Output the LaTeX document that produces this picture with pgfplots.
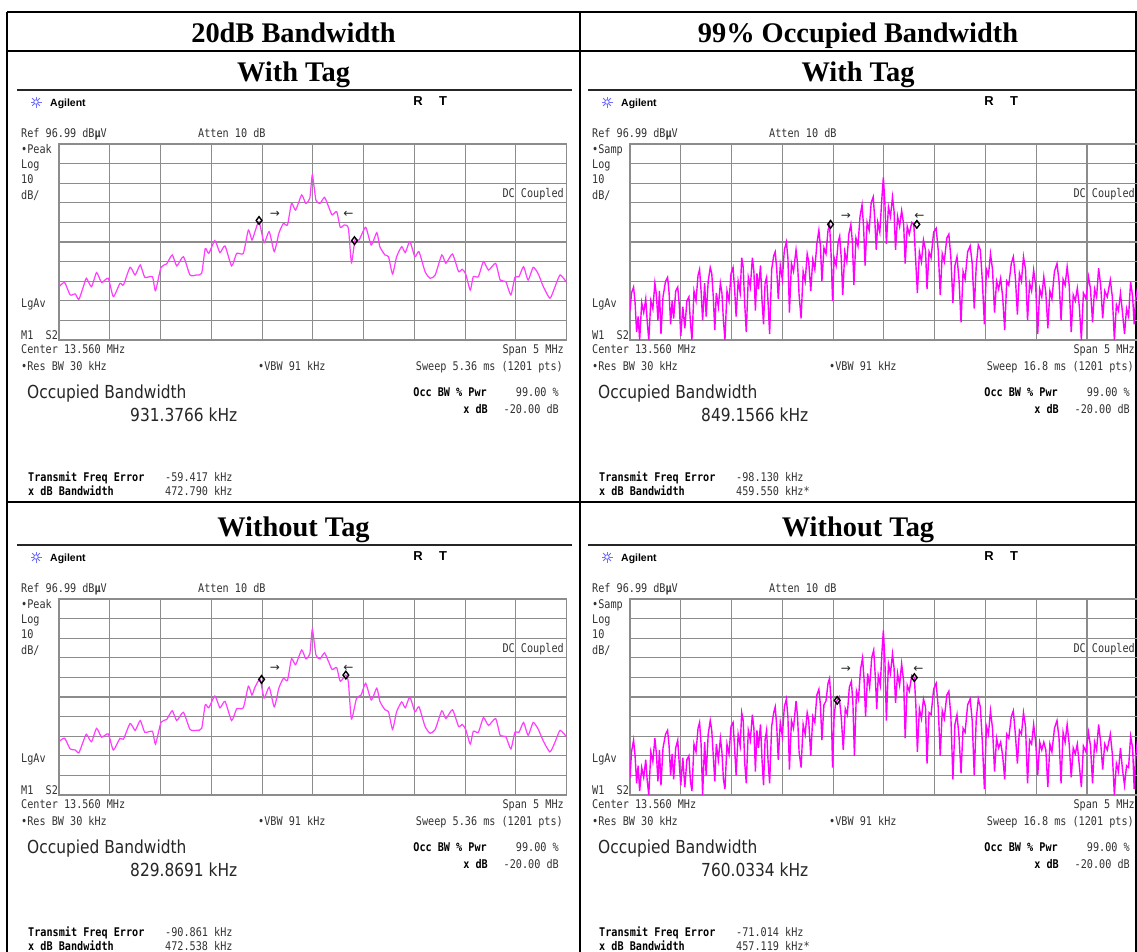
\documentclass[border=0pt]{standalone}
\usepackage{pgfplots}
\usepackage{pgfplotstable}
\pgfplotsset{compat=1.18}
\usepackage{fontspec}
\setmainfont{Liberation Serif}
\newfontfamily\agil[FakeStretch=0.85]{DejaVu Sans Mono}
\newfontfamily\agilbig[FakeStretch=0.86]{DejaVu Sans}
\newfontfamily\dejavu{DejaVu Sans}
\newfontfamily\arial{Liberation Sans}
\newcommand{\fs}{\agil\fontsize{12}{12}\selectfont}
\newcommand{\fb}{\agil\bfseries\fontsize{12}{12}\selectfont}
\newcommand{\fbig}{\agilbig\fontsize{18}{18}\selectfont}
\newcommand{\fhead}{\bfseries\fontsize{28.5}{30}\selectfont}
\definecolor{gridgray}{RGB}{140,140,140}
\definecolor{trA}{RGB}{255,60,255}
\definecolor{trB}{RGB}{255,0,255}
\definecolor{agblue}{RGB}{110,110,255}

% ---- traces (x in divisions 0..10, y in divisions above bottom, 10 dB/div) ----
\pgfplotstableread{
x y
0.00 2.72
0.11 2.93
0.22 2.30
0.32 2.35
0.39 2.07
0.48 2.72
0.54 3.15
0.64 2.72
0.74 3.44
0.84 2.93
0.97 3.15
1.07 2.21
1.20 2.89
1.27 2.81
1.40 3.71
1.50 3.32
1.60 3.83
1.69 3.20
1.84 3.23
1.90 2.52
2.01 3.71
2.12 3.88
2.23 4.34
2.32 3.78
2.45 4.25
2.58 3.32
2.71 3.32
2.81 3.40
2.88 4.66
2.95 4.42
3.07 5.07
3.17 4.46
3.27 4.80
3.40 3.78
3.50 4.42
3.63 4.42
3.73 5.61
3.80 5.10
3.86 5.53
3.94 6.04
4.04 4.97
4.14 5.53
4.24 4.51
4.33 5.44
4.42 5.95
4.50 5.87
4.58 6.97
4.66 6.63
4.78 7.40
4.86 6.97
4.94 7.23
4.99 8.42
5.06 7.14
5.14 6.97
5.23 7.28
5.31 6.80
5.38 6.38
5.47 6.55
5.54 5.75
5.62 5.87
5.70 5.70
5.76 3.95
5.83 5.10
5.91 5.10
6.04 5.75
6.15 4.85
6.26 5.48
6.32 4.76
6.42 4.34
6.49 4.25
6.57 3.37
6.65 4.25
6.75 4.76
6.82 4.46
6.91 5.02
7.01 4.25
7.09 4.51
7.21 3.49
7.31 3.15
7.41 3.32
7.54 4.34
7.62 3.91
7.75 4.39
7.87 3.49
7.94 3.61
8.01 3.37
8.10 2.55
8.16 3.23
8.26 3.23
8.36 4.00
8.46 3.57
8.60 3.91
8.69 3.06
8.80 2.98
8.90 2.30
8.98 3.20
9.06 3.23
9.15 3.74
9.24 3.06
9.34 3.71
9.44 3.37
9.54 2.72
9.67 2.13
9.77 2.72
9.87 3.32
10.00 2.93
}\tA

\pgfplotstableread{
x y
0.00 2.72
0.11 2.90
0.22 2.35
0.32 2.30
0.39 2.15
0.48 2.75
0.54 3.10
0.64 2.72
0.74 3.40
0.84 2.95
0.97 3.12
1.07 2.30
1.20 2.89
1.27 2.85
1.40 3.65
1.50 3.30
1.60 3.80
1.69 3.20
1.84 3.25
1.90 2.60
2.01 3.71
2.12 3.85
2.23 4.30
2.32 3.80
2.45 4.22
2.58 3.35
2.71 3.30
2.81 3.40
2.88 4.60
2.95 4.45
3.07 5.05
3.17 4.45
3.27 4.78
3.40 3.80
3.50 4.40
3.63 4.45
3.73 5.55
3.80 5.10
3.86 5.50
3.96 5.90
4.04 4.95
4.14 5.50
4.24 4.50
4.33 5.45
4.42 5.95
4.50 5.85
4.58 6.95
4.66 6.65
4.78 7.40
4.86 6.95
4.94 7.20
4.99 8.45
5.06 7.15
5.14 6.95
5.23 7.25
5.31 6.80
5.38 6.40
5.47 6.50
5.54 5.80
5.65 6.12
5.70 5.75
5.76 3.88
5.86 4.93
5.95 5.10
6.04 5.70
6.15 4.85
6.26 5.45
6.32 4.78
6.42 4.35
6.49 4.25
6.57 3.35
6.65 4.25
6.75 4.75
6.82 4.45
6.91 5.00
7.01 4.25
7.09 4.50
7.21 3.50
7.31 3.15
7.41 3.35
7.54 4.30
7.62 3.90
7.75 4.35
7.87 3.50
7.94 3.60
8.01 3.35
8.10 2.60
8.16 3.25
8.26 3.20
8.36 3.95
8.46 3.55
8.60 3.90
8.69 3.05
8.80 2.98
8.90 2.35
8.98 3.20
9.06 3.20
9.15 3.70
9.24 3.05
9.34 3.70
9.44 3.35
9.54 2.75
9.67 2.20
9.77 2.70
9.87 3.30
10.00 2.95
}\tC

\pgfplotstableread{
x y
0.00 1.5
0.03 2.4
0.07 2.7
0.10 1.9
0.13 0.4
0.16 1.2
0.19 0.0
0.23 1.9
0.27 1.4
0.31 2.1
0.34 0.9
0.37 0.0
0.41 2.0
0.45 1.6
0.49 2.9
0.52 2.3
0.55 1.0
0.58 2.5
0.61 0.3
0.65 2.2
0.70 3.0
0.74 3.2
0.77 2.4
0.80 0.8
0.83 2.0
0.86 1.1
0.90 2.5
0.94 2.7
0.97 1.8
1.00 0.2
1.04 1.7
1.08 0.6
1.12 2.0
1.16 2.2
1.19 0.9
1.22 0.0
1.26 2.5
1.30 2.0
1.34 3.3
1.37 3.6
1.40 2.5
1.43 1.0
1.47 2.9
1.50 1.2
1.54 3.0
1.58 3.7
1.61 3.4
1.64 2.2
1.67 0.5
1.70 2.4
1.74 1.7
1.78 2.9
1.81 2.4
1.84 1.0
1.87 0.0
1.91 2.5
1.95 2.0
1.99 3.4
2.03 3.7
2.06 2.6
2.09 1.2
2.13 3.0
2.17 2.4
2.20 4.2
2.23 3.7
2.26 1.8
2.29 0.4
2.33 3.2
2.37 2.7
2.41 4.2
2.44 3.5
2.47 1.5
2.50 3.4
2.53 2.6
2.57 3.8
2.60 2.0
2.63 0.8
2.66 2.9
2.69 3.2
2.72 1.9
2.75 0.3
2.79 3.6
2.83 4.3
2.86 4.5
2.89 3.6
2.92 2.1
2.96 3.8
3.00 3.1
3.04 4.6
3.08 5.0
3.11 4.2
3.14 1.4
3.18 3.9
3.22 3.5
3.27 4.6
3.30 3.9
3.33 2.3
3.37 1.1
3.41 3.5
3.45 3.0
3.49 4.4
3.52 4.0
3.56 2.5
3.60 4.1
3.64 3.6
3.68 4.9
3.72 5.6
3.75 4.8
3.78 3.0
3.82 4.7
3.86 4.4
3.90 5.6
3.93 5.9
3.96 4.4
3.99 2.0
4.02 4.2
4.06 3.8
4.10 5.0
4.13 5.3
4.16 4.2
4.19 2.3
4.23 4.5
4.27 4.0
4.31 5.4
4.35 5.9
4.38 5.0
4.41 2.8
4.45 5.2
4.49 4.8
4.53 6.3
4.57 6.9
4.60 5.8
4.63 3.8
4.67 6.0
4.71 5.6
4.75 7.0
4.79 7.3
4.82 6.2
4.85 4.6
4.88 6.0
4.92 5.5
4.96 7.2
4.99 8.3
5.02 7.0
5.05 4.9
5.09 6.8
5.13 6.3
5.17 7.3
5.20 6.6
5.23 4.6
5.27 6.3
5.31 5.8
5.35 6.6
5.39 5.9
5.42 3.9
5.46 5.8
5.50 5.4
5.55 6.0
5.59 5.9
5.62 4.4
5.66 2.4
5.70 4.5
5.74 4.0
5.78 5.1
5.82 4.6
5.85 2.6
5.89 4.5
5.93 4.2
5.98 5.5
6.03 5.7
6.07 4.6
6.11 2.3
6.15 4.4
6.19 4.0
6.24 5.2
6.28 5.4
6.32 4.2
6.36 1.9
6.40 3.8
6.44 4.25
6.48 3.1
6.52 0.9
6.56 3.5
6.60 3.1
6.65 4.5
6.70 4.8
6.74 3.9
6.78 1.6
6.82 3.8
6.86 4.85
6.90 4.6
6.94 3.0
6.98 0.8
7.02 3.6
7.06 3.3
7.10 4.4
7.14 3.6
7.18 1.4
7.22 3.0
7.26 2.6
7.30 3.15
7.34 2.2
7.38 0.5
7.42 3.0
7.46 2.8
7.51 3.9
7.55 4.25
7.59 3.2
7.63 1.3
7.67 3.4
7.71 3.0
7.75 4.25
7.79 3.6
7.83 1.0
7.87 2.9
7.91 2.5
7.95 3.57
7.99 2.8
8.03 0.3
8.07 2.6
8.11 2.2
8.15 3.23
8.19 2.4
8.23 0.6
8.27 2.5
8.31 2.1
8.36 3.5
8.41 3.9
8.45 3.0
8.49 1.0
8.53 3.1
8.57 2.8
8.61 3.74
8.65 2.8
8.69 0.4
8.73 2.3
8.77 2.0
8.81 2.64
8.85 1.7
8.89 0.0
8.93 2.4
8.98 2.1
9.03 3.23
9.07 2.6
9.11 0.9
9.15 2.6
9.19 2.2
9.23 3.66
9.27 2.8
9.31 1.1
9.35 2.5
9.40 2.2
9.46 3.06
9.50 2.2
9.54 0.0
9.58 1.8
9.62 1.5
9.66 2.38
9.70 1.4
9.74 0.3
9.78 1.6
9.82 1.2
9.86 2.98
9.90 2.2
9.93 0.8
9.96 2.1
10.00 2.7
}\tB

\pgfplotstableread{
x y
0.00 0.9
0.03 2.2
0.07 2.8
0.10 2.0
0.13 0.6
0.16 1.5
0.19 0.2
0.23 1.4
0.27 0.9
0.31 1.8
0.34 0.7
0.37 0.0
0.41 2.2
0.45 1.7
0.49 2.9
0.52 2.1
0.55 0.7
0.58 2.3
0.61 0.5
0.65 2.4
0.70 3.1
0.74 3.3
0.77 2.5
0.80 1.0
0.83 2.1
0.86 0.8
0.90 2.4
0.94 2.8
0.97 1.6
1.00 0.5
1.04 1.9
1.08 0.4
1.12 1.8
1.16 2.0
1.19 0.7
1.22 0.2
1.26 2.6
1.30 2.2
1.34 3.4
1.37 3.7
1.40 2.6
1.43 0.0
1.47 2.7
1.50 1.0
1.54 3.1
1.58 3.8
1.61 3.3
1.64 2.0
1.67 0.7
1.70 2.6
1.74 1.8
1.78 2.9
1.81 2.2
1.84 0.8
1.87 0.3
1.91 2.6
1.95 2.1
1.99 3.5
2.03 3.7
2.06 2.4
2.09 1.0
2.13 3.1
2.17 2.5
2.20 4.2
2.23 3.8
2.26 1.6
2.29 0.6
2.33 3.3
2.37 2.8
2.41 4.1
2.44 3.4
2.47 1.2
2.50 3.3
2.53 2.4
2.57 3.6
2.60 1.8
2.63 0.5
2.66 2.8
2.69 3.3
2.72 1.7
2.75 0.6
2.79 3.5
2.83 4.2
2.86 4.5
2.89 3.5
2.92 1.8
2.96 3.7
3.00 3.0
3.04 4.5
3.08 4.9
3.11 4.0
3.14 1.3
3.18 3.8
3.22 3.4
3.27 4.8
3.30 4.0
3.33 2.2
3.37 1.4
3.41 3.6
3.45 3.1
3.49 4.2
3.52 3.8
3.56 2.0
3.60 4.0
3.64 3.7
3.68 5.1
3.72 5.4
3.75 4.6
3.78 2.8
3.82 4.6
3.86 4.8
3.90 5.7
3.93 5.95
3.96 4.8
3.99 1.4
4.02 4.0
4.05 4.7
4.08 4.83
4.12 5.0
4.16 4.0
4.20 2.3
4.24 4.4
4.28 4.1
4.32 5.5
4.36 5.8
4.39 4.7
4.42 2.0
4.46 5.3
4.50 4.9
4.54 6.4
4.58 7.0
4.61 5.9
4.64 4.0
4.68 6.2
4.72 5.5
4.76 7.0
4.80 7.4
4.83 6.1
4.86 4.4
4.89 6.1
4.93 5.6
4.96 7.2
4.99 8.4
5.02 6.9
5.05 3.8
5.09 6.7
5.13 6.2
5.17 7.2
5.20 6.5
5.23 4.7
5.27 6.2
5.31 5.6
5.35 6.7
5.39 5.8
5.42 2.9
5.46 5.6
5.50 5.3
5.55 6.1
5.60 5.99
5.63 4.6
5.66 2.2
5.70 4.4
5.74 3.9
5.78 4.9
5.82 4.5
5.85 1.6
5.89 4.2
5.93 4.1
5.98 5.4
6.03 5.7
6.07 4.5
6.11 2.0
6.15 4.3
6.19 3.9
6.24 5.1
6.28 5.3
6.32 4.0
6.36 0.8
6.40 3.6
6.44 4.1
6.48 3.0
6.52 1.1
6.56 3.4
6.60 3.2
6.65 4.6
6.70 4.9
6.74 3.8
6.78 1.0
6.82 3.9
6.86 4.9
6.90 4.5
6.94 2.7
6.98 0.3
7.02 3.5
7.06 3.1
7.10 4.3
7.14 3.4
7.18 1.2
7.22 2.9
7.26 2.4
7.30 2.7
7.34 2.0
7.38 0.8
7.42 3.1
7.46 2.9
7.51 4.0
7.55 4.3
7.59 3.1
7.63 1.6
7.67 3.3
7.71 3.1
7.75 4.2
7.79 3.5
7.83 0.6
7.87 2.8
7.91 2.6
7.95 3.6
7.99 2.7
8.03 1.0
8.07 2.7
8.11 2.3
8.15 2.7
8.19 2.3
8.23 0.4
8.27 2.6
8.31 2.2
8.36 3.4
8.41 3.8
8.45 2.9
8.49 0.6
8.53 3.2
8.57 2.7
8.61 3.6
8.65 2.6
8.69 0.9
8.73 2.4
8.77 2.1
8.81 2.6
8.85 1.5
8.89 0.4
8.93 2.5
8.98 2.2
9.03 3.2
9.07 2.5
9.11 0.6
9.15 2.7
9.19 2.3
9.23 3.6
9.27 2.7
9.31 1.3
9.35 2.6
9.40 2.3
9.46 3.1
9.50 2.1
9.54 0.0
9.58 1.6
9.62 1.2
9.66 2.4
9.70 1.3
9.74 0.5
9.78 1.5
9.82 1.4
9.86 3.0
9.90 2.4
9.93 0.3
9.96 2.0
10.00 2.9
}\tD

\pgfplotsset{
  scr/.style={
    width=507.7bp, height=196bp, scale only axis, anchor=south west,
    xmin=0, xmax=10, ymin=0, ymax=10,
    xtick={0,1,...,10}, ytick={0,1,...,10},
    xticklabels={{},{},{},{},{},{},{},{},{},{},{}},
    yticklabels={{},{},{},{},{},{},{},{},{},{},{}},
    major tick length=0pt,
    grid=major,
    major grid style={color=gridgray, line width=1.1bp},
    axis line style={color=gridgray, line width=1.4bp},
    clip=true,
  },
  tr1/.style={color=trA, line width=1.2bp, smooth, tension=0.35},
  tr2/.style={color=trB, line width=1.4bp},
  mk/.style={only marks, mark=diamond, mark size=3.8bp,
    mark options={draw=black, fill=white, line width=1.4bp}},
}

\tikzset{
  t/.style={anchor=base west, inner sep=0pt, font=\fs, text=black!80},
  te/.style={anchor=base east, inner sep=0pt, font=\fs, text=black!80},
  tb/.style={anchor=base west, inner sep=0pt, font=\fb, text=black},
  tbe/.style={anchor=base east, inner sep=0pt, font=\fb, text=black},
  tg/.style={anchor=base west, inner sep=0pt, font=\fbig, text=black!85},
  arr/.style={inner sep=0pt, font=\dejavu\fontsize{12}{12}\selectfont, text=black!85},
  hd/.style={anchor=base, inner sep=0pt, font=\fhead},
}

% #1 dx, #2 dy, #3 detector, #4 marker label, #5 sweep, #6 occ bw, #7 freq err, #8 xdB bw
\newcommand{\scrtext}[8]{%
\begin{scope}[shift={(#1,#2)}]
  \foreach \a in {0,45,90,135}{\draw[agblue, line width=1bp] (36,102) ++(\a:5.5) -- ++(\a+180:11);}
  \fill[white] (36,102) circle (2.2);
  \draw[agblue, line width=0.8bp] (36,102) circle (2.2);
  \node[anchor=base west, inner sep=0pt, font=\arial\bfseries\fontsize{10.5}{10.5}\selectfont] at (50,106) {Agilent};
  \node[anchor=base, inner sep=0pt, font=\arial\bfseries\fontsize{13}{13}\selectfont] at (418,105) {R};
  \node[anchor=base, inner sep=0pt, font=\arial\bfseries\fontsize{13}{13}\selectfont] at (443,105) {T};
  \node[t] at (21,137.5) {Ref 96.99 dB\textbf{µ}V};
  \node[t] at (198,137.5) {Atten 10 dB};
  \node[t] at (21,153.5) {•#3};
  \node[t] at (21,168.5) {Log};
  \node[t] at (21,183.5) {10};
  \node[t] at (21,199.5) {dB/};
  \node[t] at (21,307.5) {LgAv};
  \node[t] at (21,339.5) {#4\ \ S2};
  \node[te] at (564,197.5) {DC Coupled};
  \node[t] at (21,353.5) {Center 13.560 MHz};
  \node[te] at (564,353.5) {Span 5 MHz};
  \node[t] at (21,370.5) {•Res BW 30 kHz};
  \node[t] at (258,370.5) {•VBW 91 kHz};
  \node[te] at (563,370.5) {Sweep #5 (1201 pts)};
  \node[tg] at (27,398.5) {Occupied Bandwidth};
  \node[tg] at (130,421.5) {#6 kHz};
  \node[tbe] at (487,396.5) {Occ BW \% Pwr};
  \node[te] at (559,396.5) {99.00 \%};
  \node[tbe] at (488,413.5) {x dB};
  \node[te] at (559,413.5) {-20.00 dB};
  \node[tb] at (28,481) {Transmit Freq Error};
  \node[t] at (165,481) {#7 kHz};
  \node[tb] at (28,495) {x dB Bandwidth};
  \node[t] at (165,495) {#8};
\end{scope}}

\begin{document}
\begin{tikzpicture}[x=1bp, y=-1bp]
\useasboundingbox (0,0) rectangle (1137,952);
\fill[white] (0,0) rectangle (1137,952);

% table rules
\draw[black, line width=1.6bp] (7,12) -- (1137,12);
\draw[black, line width=1.6bp] (7,51) -- (1137,51);
\draw[black, line width=1.6bp] (7,12) -- (7,952);
\draw[black, line width=1.6bp] (580,12) -- (580,952);
\draw[black, line width=1.6bp] (1136.2,12) -- (1136.2,952);
\draw[black, line width=1.6bp] (7,502) -- (1137,502);
\draw[black!85, line width=2bp] (17,90) -- (572,90);
\draw[black!85, line width=2bp] (588,90) -- (1137,90);
\draw[black!85, line width=2bp] (17,545) -- (572,545);
\draw[black!85, line width=2bp] (588,545) -- (1137,545);

% headers
\node[hd] at (293.5,42) {20dB Bandwidth};
\node[hd] at (858,42) {99\% Occupied Bandwidth};
\node[hd] at (293.5,81) {With Tag};
\node[hd] at (858,81) {With Tag};
\node[hd] at (293.5,536) {Without Tag};
\node[hd] at (858,536) {Without Tag};

% screen texts
\scrtext{0}{0}{Peak}{M1}{5.36 ms}{931.3766}{-59.417}{472.790 kHz}
\scrtext{571}{0}{Samp}{W1}{16.8 ms}{849.1566}{-98.130}{459.550 kHz*}
\scrtext{0}{455}{Peak}{M1}{5.36 ms}{829.8691}{-90.861}{472.538 kHz}
\scrtext{571}{455}{Samp}{W1}{16.8 ms}{760.0334}{-71.014}{457.119 kHz*}

% panel 1
\begin{axis}[scr, at={(59bp,-340bp)}]
\addplot[tr1] table {\tA};
\addplot[mk] coordinates {(3.94,6.1) (5.82,5.07)};
\node[arr] at (axis cs:4.25,6.43) {→};
\node[arr] at (axis cs:5.70,6.43) {←};
\end{axis}
% panel 2
\begin{axis}[scr, at={(630bp,-340bp)}]
\addplot[tr2] table {\tB};
\addplot[mk] coordinates {(3.95,5.9) (5.65,5.9)};
\node[arr] at (axis cs:4.25,6.33) {→};
\node[arr] at (axis cs:5.70,6.33) {←};
\end{axis}
% panel 3
\begin{axis}[scr, at={(59bp,-795bp)}]
\addplot[tr1] table {\tC};
\addplot[mk] coordinates {(3.99,5.9) (5.65,6.12)};
\node[arr] at (axis cs:4.25,6.45) {→};
\node[arr] at (axis cs:5.70,6.45) {←};
\end{axis}
% panel 4
\begin{axis}[scr, at={(630bp,-795bp)}]
\addplot[tr2] table {\tD};
\addplot[mk] coordinates {(4.08,4.83) (5.60,5.99)};
\node[arr] at (axis cs:4.25,6.43) {→};
\node[arr] at (axis cs:5.68,6.43) {←};
\end{axis}
\end{tikzpicture}
\end{document}
